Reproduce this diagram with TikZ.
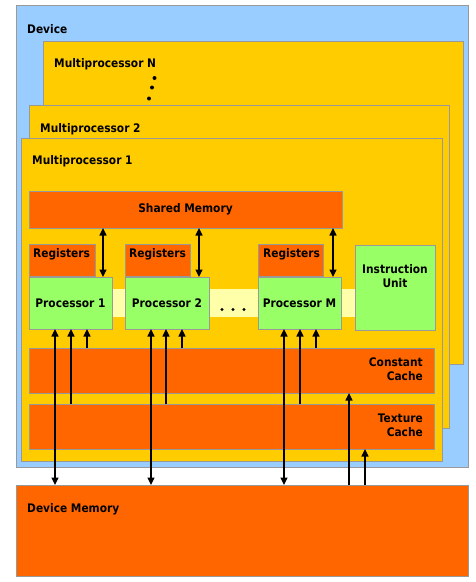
\documentclass[tikz,border=0pt]{standalone}
\usepackage{fontspec}
\setmainfont{DejaVu Sans}[FakeStretch=0.9]
\usetikzlibrary{arrows.meta}
\definecolor{devblue}{HTML}{99CCFF}
\definecolor{mpyellow}{HTML}{FFCC00}
\definecolor{memorange}{HTML}{FF6600}
\definecolor{procgreen}{HTML}{99FF66}
\definecolor{bandyellow}{HTML}{FFFFAA}
\definecolor{edgegray}{HTML}{999999}
\newcommand{\bx}[6]{%
  \pgfmathsetmacro\bxw{#5-#3}\pgfmathsetmacro\bxh{#6-#4}%
  \node[#1, anchor=north west, minimum width=\bxw pt, minimum height=\bxh pt] (#2) at (#3,#4) {};}
\tikzset{
  boxbase/.style={rectangle, inner sep=0pt, outer sep=0pt, draw=edgegray, line width=1pt},
  devbox/.style={boxbase, fill=devblue},
  mpbox/.style={boxbase, fill=mpyellow},
  membox/.style={boxbase, fill=memorange},
  procbox/.style={boxbase, fill=procgreen},
  bandbox/.style={rectangle, inner sep=0pt, outer sep=0pt, fill=bandyellow},
  lbl/.style={inner sep=0pt, font=\fontsize{11.8}{13.5}\selectfont\bfseries, text=black},
  dotmark/.style={circle, fill=black, inner sep=0pt, minimum size=4pt},
  smalldot/.style={circle, fill=black, inner sep=0pt, minimum size=3.4pt},
  tip/.tip={Triangle[width=7pt,length=7.5pt]},
  arr/.style={-tip, line width=1.2pt},
  darr/.style={tip-tip, line width=1.2pt},
}
\begin{document}
\begin{tikzpicture}[x=1pt,y=-1pt]
\useasboundingbox (0,0) rectangle (475,582);
% device
\bx{devbox}{dev}{16}{5}{468}{467}
\node[lbl, anchor=mid west] (devt) at (27,30.5) {Device};
% multiprocessor N
\bx{mpbox}{mpn}{43}{41}{463}{364}
\node[lbl, anchor=mid west] (mpnt) at (54,64.5) {Multiprocessor N};
\node[dotmark] (dn1) at (154.5,78) {};
\node[dotmark] (dn2) at (152,87.5) {};
\node[dotmark] (dn3) at (149,98.5) {};
% multiprocessor 2
\bx{mpbox}{mp2}{29}{105}{449}{428}
\node[lbl, anchor=mid west] (mp2t) at (40,129.5) {Multiprocessor 2};
% multiprocessor 1
\bx{mpbox}{mp1}{21}{138}{442}{461}
\node[lbl, anchor=mid west] (mp1t) at (32,161.5) {Multiprocessor 1};
% shared memory
\bx{membox}{sm}{29}{191}{342}{228}
\node[lbl] (smt) at (sm) {Shared Memory};
% band
\bx{bandbox}{band}{112}{289}{356}{317}
\node[smalldot] (e1) at (222,309.5) {};
\node[smalldot] (e2) at (233,309.5) {};
\node[smalldot] (e3) at (244,309.5) {};
% registers
\bx{membox}{r1}{29}{244}{95}{276}
\bx{membox}{r2}{125}{244}{190}{276}
\bx{membox}{rm}{258}{244}{323}{276}
\node[lbl, anchor=mid west] (r1t) at (33,254.5) {Registers};
\node[lbl, anchor=mid west] (r2t) at (129,254.5) {Registers};
\node[lbl, anchor=mid west] (rmt) at (263,254.5) {Registers};
% processors
\bx{procbox}{p1}{29}{277}{112}{329}
\bx{procbox}{p2}{125}{277}{209}{329}
\bx{procbox}{pm}{258}{277}{341}{329}
\node[lbl] (p1t) at (p1) {Processor 1};
\node[lbl] (p2t) at (p2) {Processor 2};
\node[lbl] (pmt) at (pm) {Processor M};
% instruction unit
\bx{procbox}{iu}{355}{245}{435}{330}
\node[lbl, align=center, anchor=north] (iut) at (395,264.5) {Instruction\\Unit};
% caches
\bx{membox}{cc}{29}{348}{434}{393}
\bx{membox}{tc}{29}{404}{434}{449}
\node[lbl, align=right, anchor=north east] (cct) at (423,358) {Constant\\Cache};
\node[lbl, align=right, anchor=north east] (tct) at (423,414) {Texture\\Cache};
% device memory
\bx{membox}{dm}{16}{485}{468}{576}
\node[lbl, anchor=mid west] (dmt) at (27,509.5) {Device Memory};
% arrow x positions
\coordinate (s1) at (103,0);
\coordinate (s2) at (199,0);
\coordinate (sM) at (333,0);
\coordinate (a1) at (55,0);
\coordinate (b1) at (71,0);
\coordinate (c1) at (87,0);
\coordinate (a2) at (151,0);
\coordinate (b2) at (166,0);
\coordinate (c2) at (182,0);
\coordinate (aM) at (284,0);
\coordinate (bM) at (300,0);
\coordinate (cM) at (316,0);
\coordinate (kc) at (349,0);
\coordinate (kt) at (365,0);
% shared memory <-> processors
\draw[darr] (sm.south -| s1) -- (p1.north -| s1);
\draw[darr] (sm.south -| s2) -- (p2.north -| s2);
\draw[darr] (sm.south -| sM) -- (pm.north -| sM);
% processors <-> device memory
\draw[darr] (p1.south -| a1) -- (dm.north -| a1);
\draw[darr] (p2.south -| a2) -- (dm.north -| a2);
\draw[darr] (pm.south -| aM) -- (dm.north -| aM);
% texture cache -> processors
\draw[arr] (tc.north -| b1) -- (p1.south -| b1);
\draw[arr] (tc.north -| b2) -- (p2.south -| b2);
\draw[arr] (tc.north -| bM) -- (pm.south -| bM);
% constant cache -> processors
\draw[arr] (cc.north -| c1) -- (p1.south -| c1);
\draw[arr] (cc.north -| c2) -- (p2.south -| c2);
\draw[arr] (cc.north -| cM) -- (pm.south -| cM);
% device memory -> caches
\draw[arr] (dm.north -| kc) -- (cc.south -| kc);
\draw[arr] (dm.north -| kt) -- (tc.south -| kt);
\end{tikzpicture}
\end{document}
